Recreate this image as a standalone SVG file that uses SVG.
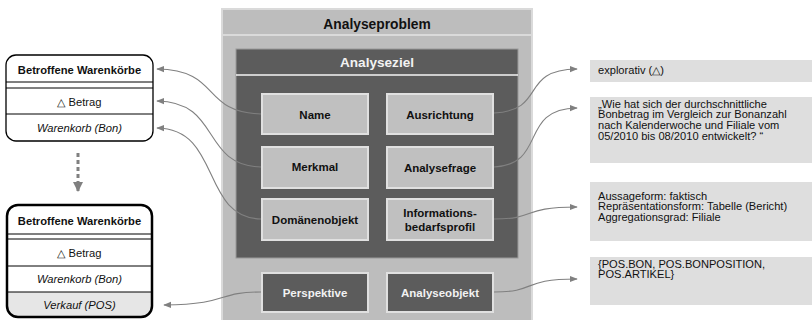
<svg xmlns="http://www.w3.org/2000/svg" width="812" height="320" viewBox="0 0 812 320">
  <defs>
    <marker id="arr" viewBox="0 0 10 10" refX="9" refY="5" markerWidth="8" markerHeight="8" markerUnits="userSpaceOnUse" orient="auto">
      <path d="M0,1 L10,5 L0,9 Z" fill="#808080"/>
    </marker>
    <marker id="arrBig" viewBox="0 0 10 10" refX="9" refY="5" markerWidth="10" markerHeight="10" markerUnits="userSpaceOnUse" orient="auto">
      <path d="M0,0 L10,5 L0,10 Z" fill="#808080"/>
    </marker>
  </defs>
  <style>
    text { font-family: "Liberation Sans", Arial, sans-serif; }
    .b { font-weight: bold; }
    .it { font-style: italic; }
    .lbl { font-size: 11.5px; font-weight: bold; fill: #111; text-anchor: middle; }
    .lblw { font-size: 11.5px; font-weight: bold; fill: #f2f2f2; text-anchor: middle; }
    .inner { fill: #c0c0c0; stroke: #e0e0e0; stroke-width: 2; }
    .innerDark { fill: #5c5c5c; stroke: #e0e0e0; stroke-width: 2; }
    .note { fill: #dedede; }
    .nt { font-size: 11.1px; fill: #111; }
    .conn { fill: none; stroke: #808080; stroke-width: 1.1; }
    .rowt { font-size: 11.2px; fill: #111; text-anchor: middle; }
    .hdr { font-size: 11.2px; font-weight: bold; fill: #111; text-anchor: middle; }
    .sep { stroke: #000; stroke-width: 1; }
  </style>

  <!-- Analyseproblem frame -->
  <g id="analyseproblem">
    <rect x="222" y="9" width="310" height="312" fill="#bdbdbd" stroke="#dadada" stroke-width="2"/>
    <line x1="222" y1="35" x2="532" y2="35" stroke="#dadada" stroke-width="2"/>
    <text x="377" y="29" class="b" font-size="13.8" text-anchor="middle" fill="#111">Analyseproblem</text>
  </g>

  <!-- Analyseziel frame -->
  <g id="analyseziel">
    <rect x="236" y="49" width="282" height="209" fill="#5c5c5c" stroke="#9a9a9a" stroke-width="1"/>
    <line x1="236" y1="75" x2="518" y2="75" stroke="#f4f4f4" stroke-width="1.5"/>
    <text x="377" y="67" class="b" font-size="13.6" text-anchor="middle" fill="#f2f2f2">Analyseziel</text>
  </g>

  <g id="name">
    <rect x="262" y="94" width="106" height="40" class="inner"/>
    <text x="315" y="119" class="lbl">Name</text>
  </g>
  <g id="ausrichtung">
    <rect x="387" y="94" width="106" height="40" class="inner"/>
    <text x="440" y="119" class="lbl">Ausrichtung</text>
  </g>
  <g id="merkmal">
    <rect x="262" y="147" width="106" height="41" class="inner"/>
    <text x="315" y="171" class="lbl">Merkmal</text>
  </g>
  <g id="analysefrage">
    <rect x="387" y="147" width="106" height="41" class="inner"/>
    <text x="440" y="172" class="lbl">Analysefrage</text>
  </g>
  <g id="domaenenobjekt">
    <rect x="262" y="199" width="106" height="41" class="inner"/>
    <text x="315" y="224" class="lbl">Domänenobjekt</text>
  </g>
  <g id="informationsbedarfsprofil">
    <rect x="387" y="199" width="106" height="41" class="inner"/>
    <text x="440" y="216.5" class="lbl">Informations-</text>
    <text x="440" y="230.5" class="lbl">bedarfsprofil</text>
  </g>
  <g id="perspektive">
    <rect x="262" y="273" width="106" height="39" class="innerDark"/>
    <text x="315" y="297" class="lblw">Perspektive</text>
  </g>
  <g id="analyseobjekt">
    <rect x="387" y="273" width="106" height="39" class="innerDark"/>
    <text x="440" y="297" class="lblw">Analyseobjekt</text>
  </g>

  <!-- Left: first class box -->
  <g id="warenkoerbe1">
    <rect x="6" y="55" width="147" height="86" rx="10" ry="10" fill="#fff" stroke="#000" stroke-width="1.3"/>
    <text x="79.5" y="74" class="hdr">Betroffene Warenkörbe</text>
    <line x1="6" y1="82" x2="153" y2="82" class="sep"/>
    <line x1="6" y1="88" x2="153" y2="88" class="sep"/>
    <text x="79.5" y="106" class="rowt">△ Betrag</text>
    <line x1="6" y1="114" x2="153" y2="114" class="sep"/>
    <text x="79.5" y="132" class="rowt it">Warenkorb (Bon)</text>
  </g>

  <!-- Left: second class box -->
  <g id="warenkoerbe2">
    <path d="M7,292 L152,292 L152,306 Q152,317 141,317 L18,317 Q7,317 7,306 Z" fill="#e6e6e6"/>
    <rect x="7" y="205" width="145" height="112" rx="11" ry="11" fill="none" stroke="#000" stroke-width="2.5"/>
    <text x="79.5" y="225" class="hdr">Betroffene Warenkörbe</text>
    <line x1="7" y1="234" x2="152" y2="234" class="sep"/>
    <line x1="7" y1="239" x2="152" y2="239" class="sep"/>
    <text x="79.5" y="257" class="rowt">△ Betrag</text>
    <line x1="7" y1="266" x2="152" y2="266" class="sep"/>
    <text x="79.5" y="283" class="rowt it">Warenkorb (Bon)</text>
    <line x1="7" y1="292" x2="152" y2="292" class="sep"/>
    <text x="79.5" y="309" class="rowt it">Verkauf (POS)</text>
  </g>

  <!-- Right: notes -->
  <g id="note-ausrichtung">
    <rect x="590" y="60" width="222" height="22" class="note"/>
    <text x="598" y="74" class="nt">explorativ (△)</text>
  </g>
  <g id="note-analysefrage">
    <rect x="590" y="97" width="222" height="66" class="note"/>
    <text x="598" y="107.5" class="nt">„Wie hat sich der durchschnittliche</text>
    <text x="598" y="118.2" class="nt">Bonbetrag im Vergleich zur Bonanzahl</text>
    <text x="598" y="128.9" class="nt">nach Kalenderwoche und Filiale vom</text>
    <text x="598" y="139.6" class="nt">05/2010 bis 08/2010 entwickelt? “</text>
  </g>
  <g id="note-profil">
    <rect x="590" y="182" width="222" height="59" class="note"/>
    <text x="598" y="199.5" class="nt">Aussageform: faktisch</text>
    <text x="598" y="210.3" class="nt">Repräsentationsform: Tabelle (Bericht)</text>
    <text x="598" y="221.1" class="nt">Aggregationsgrad: Filiale</text>
  </g>
  <g id="note-analyseobjekt">
    <rect x="590" y="257" width="222" height="48" class="note"/>
    <text x="598" y="267.5" class="nt">{POS.BON, POS.BONPOSITION,</text>
    <text x="598" y="278.2" class="nt">POS.ARTIKEL}</text>
  </g>

  <!-- Connectors -->
  <g id="connectors">
    <path class="conn" d="M261,114 C200,112 222,70 157,69" marker-end="url(#arr)"/>
    <path class="conn" d="M261,167 C200,165 222,102 157,101" marker-end="url(#arr)"/>
    <path class="conn" d="M261,219 C200,217 222,129 157,128" marker-end="url(#arr)"/>
    <path class="conn" d="M261,292 C215,292 232,304 164,305" marker-end="url(#arr)"/>
    <path class="conn" d="M494,113 C548,110 518,70 577,69" marker-end="url(#arr)"/>
    <path class="conn" d="M494,167 C548,164 518,109 577,108" marker-end="url(#arr)"/>
    <path class="conn" d="M494,219 C538,219 520,207 577,207" marker-end="url(#arr)"/>
    <path class="conn" d="M494,292 C538,292 520,279 577,279" marker-end="url(#arr)"/>
    <path fill="none" stroke="#808080" stroke-width="3" stroke-dasharray="4,3" d="M78,153 L78,191" marker-end="url(#arrBig)"/>
  </g>
</svg>
